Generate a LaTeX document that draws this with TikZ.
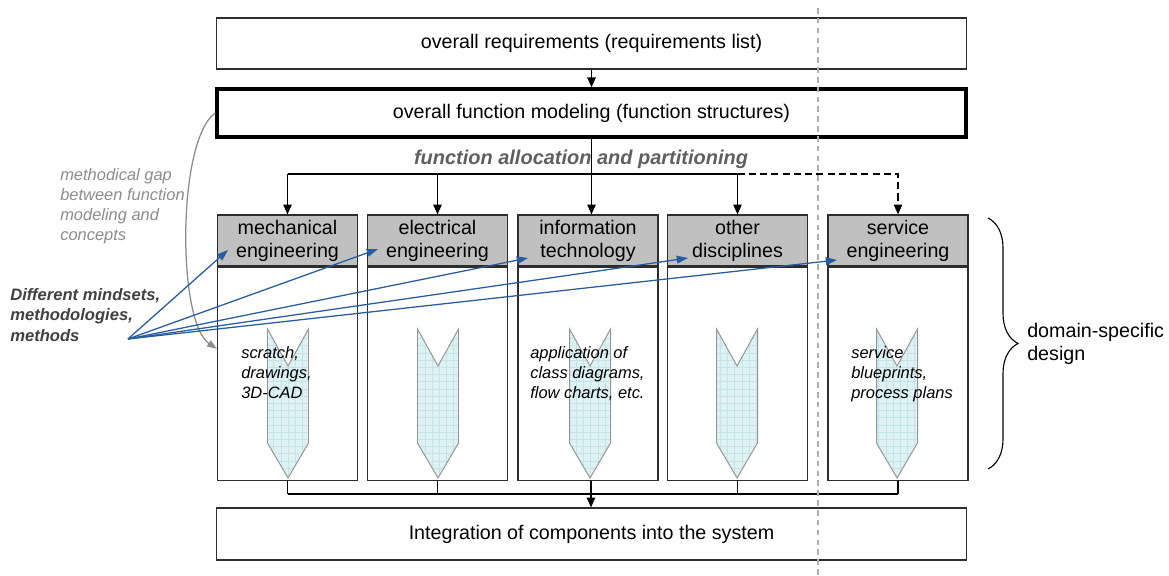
\documentclass[tikz,border=0pt]{standalone}
\usepackage{fontspec}
\setmainfont{Liberation Sans}
\usepackage{tikz}
\usetikzlibrary{arrows.meta,decorations.pathreplacing}
\definecolor{pdborder}{RGB}{45,45,45}
\definecolor{pdhead}{RGB}{192,192,192}
\definecolor{pdblue}{RGB}{38,92,160}
\definecolor{pdchev}{RGB}{222,241,243}
\definecolor{pdgrid}{RGB}{196,228,232}
\definecolor{pdchevline}{RGB}{150,150,150}
\definecolor{pdgap}{RGB}{140,140,140}
\definecolor{pdalloc}{RGB}{95,95,95}
\definecolor{pdmind}{RGB}{64,64,64}
\definecolor{pdsep}{RGB}{175,175,175}
\tikzstyle{arrow} = [line width=0.9pt,-{Triangle[length=7pt,width=6pt]},color=black]
\tikzstyle{link} = [line width=0.9pt,color=black]
\tikzstyle{widebox} = [rectangle, draw=pdborder, line width=0.8pt, minimum width=18.725cm, minimum height=1.275cm, inner sep=0pt, font=\fontsize{14}{16.5}\selectfont]
\tikzstyle{discipline} = [rectangle, draw=pdborder, line width=0.8pt, fill=pdhead, minimum width=3.5cm, minimum height=1.275cm, inner sep=0pt, align=center, font=\fontsize{14}{16.4}\selectfont]
\tikzstyle{domainbody} = [rectangle, draw=pdborder, line width=0.8pt, minimum width=3.5cm, minimum height=5.325cm, anchor=north]
\tikzstyle{toolnote} = [anchor=north west, inner sep=0pt, align=left, font=\fontsize{11.7}{14.5}\selectfont\itshape]
\tikzstyle{mindarrow} = [line width=0.9pt,-{Triangle[length=8pt,width=5.5pt]},color=pdblue]

\begin{document}
\begin{tikzpicture}[x=0.025cm, y=-0.025cm]
    \useasboundingbox (0,0) rectangle (1169,576);

    % Overall boxes
    \node[widebox] (req) at (591.5,43.5) {overall requirements (requirements list)};
    \node[widebox, line width=2.4pt, draw=black, minimum height=1.2cm] (func) at (591.5,113) {overall function modeling (function structures)};
    \node[widebox, minimum height=1.3cm] (integ) at (591.5,534) {Integration of components into the system};

    % Discipline heads
    \node[discipline] (mech) at (287.5,240.5) {mechanical\\engineering};
    \node[discipline] (elec) at (437.5,240.5) {electrical\\engineering};
    \node[discipline] (info) at (588,240.5) {information\\technology};
    \node[discipline] (other) at (737.5,240.5) {other\\disciplines};
    \node[discipline] (serv) at (898,240.5) {service\\engineering};

    % Discipline bodies
    \node[domainbody] (mechbody) at (mech.south) {};
    \node[domainbody] (elecbody) at (elec.south) {};
    \node[domainbody] (infobody) at (info.south) {};
    \node[domainbody] (otherbody) at (other.south) {};
    \node[domainbody] (servbody) at (serv.south) {};

    % Chevrons
    \foreach \cx in {288,438,590,737,897} {
        \begin{scope}
            \clip (\cx-20.5,329) -- (\cx,366) -- (\cx+20.5,329) -- (\cx+20.5,443) -- (\cx,478) -- (\cx-20.5,443) -- cycle;
            \fill[pdchev] (\cx-21,328) rectangle (\cx+21,479);
            \draw[pdgrid, step=0.18cm, line width=0.3pt] (\cx-21,328) grid (\cx+21,479);
        \end{scope}
        \draw[pdchevline, line width=0.7pt] (\cx-20.5,329) -- (\cx,366) -- (\cx+20.5,329) -- (\cx+20.5,443) -- (\cx,478) -- (\cx-20.5,443) -- cycle;
    }

    % Tool notes
    \node[toolnote] (mechnote) at (241,346) {scratch,\\drawings,\\3D-CAD};
    \node[toolnote] (infonote) at (530,346) {application of\\class diagrams,\\flow charts, etc.};
    \node[toolnote] (servnote) at (851,346) {service\\blueprints,\\process plans};

    % Function allocation
    \node[font=\fontsize{14.2}{16}\selectfont\bfseries\itshape, text=pdalloc] (alloc) at (581,159) {function allocation and partitioning};
    \coordinate (split) at (591,174);
    \draw[arrow] (req) -- (func);
    \draw[arrow] (func.south) -- (func.south |- info.north);
    \draw[link] (split -| mech.north) -- (split -| other.north);
    \draw[arrow] (split -| mech.north) -- (mech.north);
    \draw[arrow] (split -| elec.north) -- (elec.north);
    \draw[arrow] (split -| other.north) -- (other.north);
    \draw[arrow, dashed, dash pattern=on 5pt off 3pt] (split -| other.north) -- (split -| serv.north) -- (serv.north);

    % Integration
    \coordinate (merge) at (591,494);
    \draw[link] (mechbody.south) -- (mechbody.south |- merge);
    \draw[link] (elecbody.south) -- (elecbody.south |- merge);
    \draw[link] (merge |- infobody.south) -- (merge);
    \draw[link] (otherbody.south) -- (otherbody.south |- merge);
    \draw[link] (servbody.south) -- (servbody.south |- merge);
    \draw[link] (mechbody.south |- merge) -- (servbody.south |- merge);
    \draw[arrow] (merge) -- (merge |- integ.north);

    % Left side texts
    \node[anchor=north west, inner sep=0pt, align=left, text=pdgap, font=\fontsize{11.7}{14.3}\selectfont\itshape] (gap) at (60,168) {methodical gap\\between function\\modeling and\\concepts};
    \node[anchor=north west, inner sep=0pt, align=left, text=pdmind, font=\fontsize{11.8}{14.6}\selectfont\bfseries\itshape] (mind) at (10,288) {Different mindsets,\\methodologies,\\methods};
    \draw[pdgap, line width=0.9pt, -{Triangle[length=7pt,width=5pt]}] (func.west) .. controls (177,140) and (177,322) .. ([yshift=0.62cm]mechbody.west);

    % Mindsets to disciplines
    \coordinate (src) at (128,339);
    \coordinate (mechin) at (228,250);
    \coordinate (elecin) at (378,249);
    \coordinate (infoin) at (528,258);
    \coordinate (otherin) at (688,258);
    \coordinate (servin) at (837,260);
    \draw[mindarrow] (src) -- (mechin);
    \draw[mindarrow] (src) -- (elecin);
    \draw[mindarrow] (src) -- (infoin);
    \draw[mindarrow] (src) -- (otherin);
    \draw[mindarrow] (src) -- (servin);

    % Domain-specific brace
    \coordinate (bracetop) at (988,218);
    \coordinate (bracebot) at (988,469);
    \draw[line width=0.8pt, decorate, decoration={brace, amplitude=0.75cm}] (bracetop) -- (bracebot);
    \node[anchor=west, align=left, inner sep=0pt, font=\fontsize{14}{16}\selectfont] (domain) at (1027,344) {domain-specific\\design};

    % Separator
    \coordinate (septop) at (818,8);
    \coordinate (sepbot) at (818,576);
    \draw[pdsep, line width=1pt, dash pattern=on 4pt off 3pt] (septop) -- (sepbot);
\end{tikzpicture}
\end{document}
